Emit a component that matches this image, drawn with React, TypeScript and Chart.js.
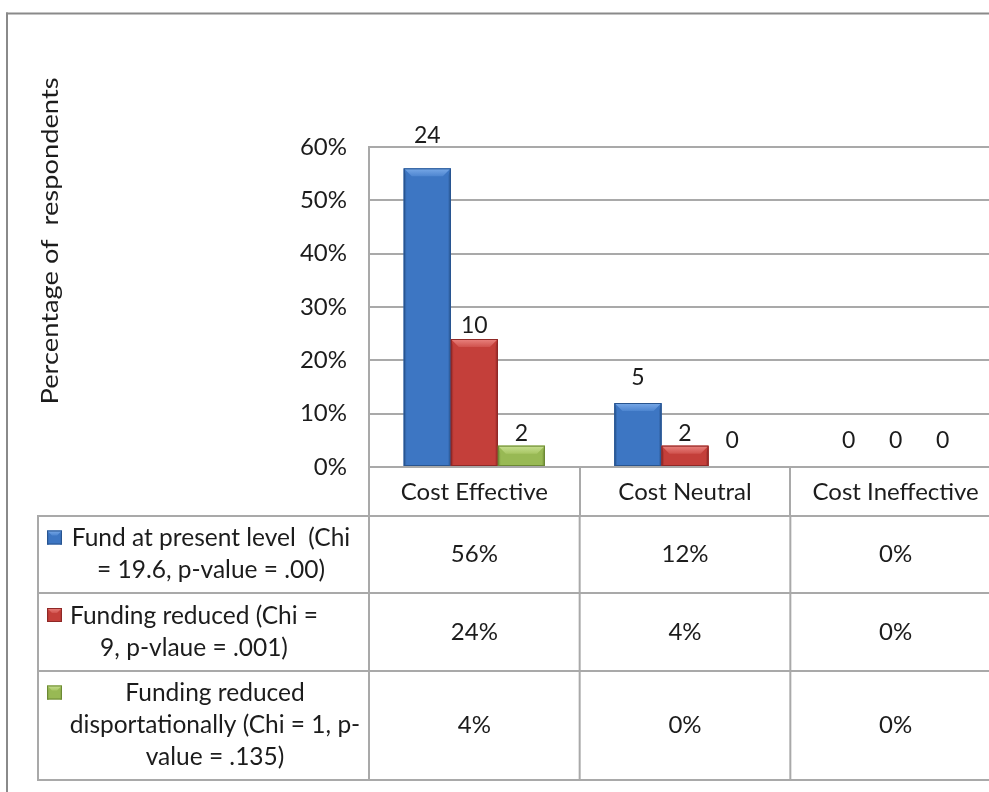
import { useEffect, useRef } from "react";
import { Chart, registerables } from "chart.js";

Chart.register(...registerables);

// Categories along the x axis and the series plotted against them (percent of respondents)
const categories = ["Cost Effective", "Cost Neutral", "Cost Ineffective"];
const presentLevel = [56, 12, 0];
const reducedLevel = [24, 4, 0];
const disproportional = [4, 0, 0];

// Respondent counts printed above each bar
const presentCounts = [24, 5, 0];
const reducedCounts = [10, 2, 0];
const disproportionalCounts = [2, 0, 0];

// Series captions shown in the data table, one entry per wrapped line
const presentCaption = ["Fund at present level  (Chi", "= 19.6, p-value = .00)"];
const reducedCaption = ["Funding reduced (Chi =", "9, p-vlaue = .001)"];
const disproportionalCaption = ["Funding reduced", "disportationally (Chi = 1, p-", "value = .135)"];

// Value axis
const yMin = 0;
const yMax = 60;
const yStep = 10;
const yTitle = "Percentage of  respondents";

const FONT = "Lato, 'Open Sans', sans-serif";
const TEXT = "#1c1c1c";
const LINE = "#a9a9a9";

const PALETTES = [
  { body: "#3d76c3", edge: "#28548f", hi: "#7aaae8", hi2: "#4d85d0" },
  { body: "#c43f3a", edge: "#8f2826", hi: "#ea8480", hi2: "#d0524d" },
  { body: "#98b954", edge: "#6c8934", hi: "#c8e092", hi2: "#a8c664" },
];

// Vertical lift of each count label above its bar top, [series][category]
const LABEL_LIFT = [
  [33, 25, 26],
  [13, 12, 26],
  [12, 26, 26],
];

// Data table geometry
const TABLE_LEFT = 38;
const ROW_LINES = [516, 593, 671, 780];
const CAPTION_CENTER_X = [211, 194, 215];
const CAPTION_LINE_GAP = 32;
const KEY_X = 47;
const KEY_W = 15;
const KEY_H = 14;

const TITLE_X = 50;
const TITLE_Y = 241;
const TITLE_LENGTH = 327;

type Pal = { body: string; edge: string; hi: string; hi2: string };

function bevelRect(ctx: CanvasRenderingContext2D, l: number, r: number, t: number, b: number, pal: Pal, inset: number, side: number) {
  const w = r - l;
  const h = b - t;
  if (h < 0.5 || w < 0.5) return;
  const bv = Math.min(inset, h / 2);
  const iv = Math.min(inset, w / 3);
  ctx.save();
  ctx.fillStyle = pal.body;
  ctx.fillRect(l, t, w, h);

  const gl = ctx.createLinearGradient(l, 0, l + side, 0);
  gl.addColorStop(0, pal.edge);
  gl.addColorStop(1, pal.body);
  ctx.fillStyle = gl;
  ctx.beginPath();
  ctx.moveTo(l, t);
  ctx.lineTo(l + side, t + bv);
  ctx.lineTo(l + side, b);
  ctx.lineTo(l, b);
  ctx.closePath();
  ctx.fill();

  const gr = ctx.createLinearGradient(r, 0, r - side, 0);
  gr.addColorStop(0, pal.edge);
  gr.addColorStop(1, pal.body);
  ctx.fillStyle = gr;
  ctx.beginPath();
  ctx.moveTo(r, t);
  ctx.lineTo(r - side, t + bv);
  ctx.lineTo(r - side, b);
  ctx.lineTo(r, b);
  ctx.closePath();
  ctx.fill();

  const gt = ctx.createLinearGradient(0, t, 0, t + bv);
  gt.addColorStop(0, pal.hi);
  gt.addColorStop(1, pal.hi2);
  ctx.fillStyle = gt;
  ctx.beginPath();
  ctx.moveTo(l, t);
  ctx.lineTo(r, t);
  ctx.lineTo(r - iv, t + bv);
  ctx.lineTo(l + iv, t + bv);
  ctx.closePath();
  ctx.fill();

  ctx.strokeStyle = pal.edge;
  ctx.lineWidth = 1;
  ctx.strokeRect(l + 0.5, t + 0.5, w - 1, h - 1);
  ctx.restore();
}

const seriesValues = [presentLevel, reducedLevel, disproportional];
const seriesCounts = [presentCounts, reducedCounts, disproportionalCounts];
const seriesCaptions = [presentCaption, reducedCaption, disproportionalCaption];

const decorPlugin = {
  id: "decor",
  afterDatasetsDraw(chart: any) {
    const ctx: CanvasRenderingContext2D = chart.ctx;
    chart.data.datasets.forEach((_: any, di: number) => {
      const meta = chart.getDatasetMeta(di);
      meta.data.forEach((el: any, ci: number) => {
        const { x, y, base, width } = el.getProps(["x", "y", "base", "width"], true);
        bevelRect(ctx, x - width / 2, x + width / 2, y, base, PALETTES[di], 8, 3);
        ctx.save();
        ctx.fillStyle = TEXT;
        ctx.font = `23px ${FONT}`;
        ctx.textAlign = "center";
        ctx.textBaseline = "middle";
        ctx.fillText(String(seriesCounts[di][ci]), x, y - LABEL_LIFT[di][ci]);
        ctx.restore();
      });
    });
  },
  afterDraw(chart: any) {
    const ctx: CanvasRenderingContext2D = chart.ctx;
    const area = chart.chartArea;
    const xs = chart.scales.x;
    const W = chart.width;
    const H = chart.height;
    const colW = (area.right - area.left) / categories.length;

    ctx.save();
    // outer frame
    ctx.fillStyle = "#8a8a8a";
    ctx.fillRect(6, 12.5, W, 2);
    ctx.fillRect(6, 12.5, 2, H);

    // table rules
    ctx.fillStyle = LINE;
    ROW_LINES.forEach((y) => ctx.fillRect(TABLE_LEFT - 1, y - 1, W, 2));
    const top = ROW_LINES[0];
    const bottom = ROW_LINES[ROW_LINES.length - 1];
    ctx.fillRect(TABLE_LEFT - 1, top - 1, 2, bottom - top + 1);
    for (let i = 0; i <= categories.length; i++) {
      const bx = area.left + i * colW;
      ctx.fillRect(bx - 1, top - 1, 2, bottom - top + 1);
    }

    // table values and captions
    ctx.fillStyle = TEXT;
    ctx.textBaseline = "middle";
    for (let r = 0; r < seriesValues.length; r++) {
      const cy = (ROW_LINES[r] + ROW_LINES[r + 1]) / 2;
      ctx.font = `24px ${FONT}`;
      ctx.textAlign = "center";
      seriesValues[r].forEach((v, ci) => {
        ctx.fillText(`${v}%`, xs.getPixelForValue(ci), cy);
      });
      const lines = seriesCaptions[r];
      const firstY = cy - ((lines.length - 1) * CAPTION_LINE_GAP) / 2;
      ctx.font = `24.5px ${FONT}`;
      lines.forEach((ln, li) => {
        ctx.fillText(ln, CAPTION_CENTER_X[r], firstY + li * CAPTION_LINE_GAP);
      });
      const ky = firstY - KEY_H / 2 - 1;
      bevelRect(ctx, KEY_X, KEY_X + KEY_W, ky, ky + KEY_H, PALETTES[r], 5, 2);
    }

    // value axis title
    ctx.font = `24px ${FONT}`;
    const natural = ctx.measureText(yTitle).width;
    ctx.translate(TITLE_X, TITLE_Y);
    ctx.rotate(-Math.PI / 2);
    ctx.scale(TITLE_LENGTH / natural, 1);
    ctx.textAlign = "center";
    ctx.fillStyle = TEXT;
    ctx.fillText(yTitle, 0, 0);
    ctx.restore();
  },
};

export default function App() {
  const ref = useRef<HTMLCanvasElement>(null);

  useEffect(() => {
    const canvas = ref.current;
    if (!canvas) return;
    const chart = new Chart(canvas, {
      type: "bar",
      data: {
        labels: categories,
        datasets: seriesValues.map((vals, i) => ({
          label: seriesCaptions[i].join(" "),
          data: vals,
          backgroundColor: PALETTES[i].body,
          borderWidth: 0,
          categoryPercentage: 0.67,
          barPercentage: 1.0,
        })),
      },
      options: {
        responsive: false,
        animation: false,
        layout: { padding: { top: 147, left: 0, right: 0, bottom: 0 } },
        plugins: {
          legend: { display: false },
          tooltip: { enabled: false },
          title: { display: false },
        },
        scales: {
          x: {
            type: "category",
            offset: true,
            grid: {
              offset: true,
              drawOnChartArea: false,
              drawTicks: true,
              tickLength: 49,
              color: LINE,
              lineWidth: 2,
            },
            border: { color: LINE, width: 2 },
            ticks: {
              font: { family: FONT, size: 24 },
              color: TEXT,
              padding: -38,
              maxRotation: 0,
              autoSkip: false,
            },
            afterFit: (s: any) => {
              s.height = 325;
            },
          },
          y: {
            min: yMin,
            max: yMax,
            ticks: {
              stepSize: yStep,
              font: { family: FONT, size: 24 },
              color: TEXT,
              padding: 22,
              callback: (v: any) => `${v}%`,
            },
            grid: { color: LINE, lineWidth: 2, drawTicks: false },
            border: { color: LINE, width: 2 },
            afterFit: (s: any) => {
              s.width = 369;
            },
          },
        },
      },
      plugins: [decorPlugin],
    });
    return () => chart.destroy();
  }, []);

  return (
    <div
      style={{
        position: "fixed",
        left: 0,
        top: 0,
        width: 989,
        height: 792,
        overflow: "hidden",
        background: "#ffffff",
      }}
    >
      <canvas ref={ref} width={1001} height={792} style={{ display: "block", width: 1001, height: 792 }} />
    </div>
  );
}
